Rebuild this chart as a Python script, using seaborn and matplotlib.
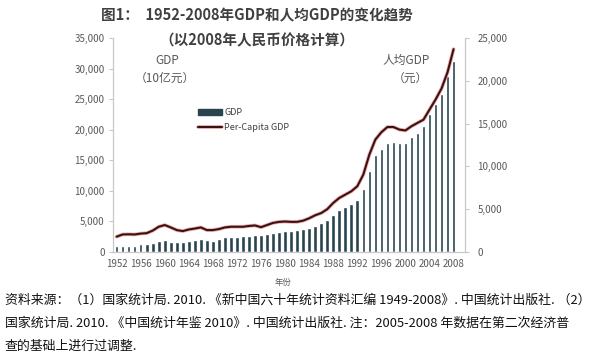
import matplotlib
matplotlib.use("Agg")
import matplotlib.pyplot as plt
import matplotlib.patheffects as pe
from matplotlib.lines import Line2D
from matplotlib.patches import Patch
from matplotlib.ticker import FuncFormatter, MultipleLocator
import pandas as pd
import seaborn as sns

years = list(range(1952, 2009))

# GDP, 10亿元 (2008 prices)
gdp = [950, 1050, 1050, 1050, 1250, 1300, 1450, 1800, 1950, 1700,
       1650, 1600, 1800, 1950, 2050, 1950, 1850, 2100, 2400, 2500,
       2500, 2650, 2650, 2800, 2700, 2900, 3150, 3300, 3450, 3500,
       3550, 3700, 3900, 4300, 4750, 5300, 6000, 6800, 7300, 7850,
       8550, 10300, 13300, 15800, 16900, 17800, 18050, 17800, 17900, 18800,
       19400, 20600, 22600, 24200, 25900, 28800, 31300]

# per-capita GDP, 元
gdp_pc = [1790, 2050, 2070, 2050, 2150, 2200, 2500, 2950, 3150, 2870,
          2560, 2440, 2630, 2740, 2870, 2560, 2560, 2680, 2870, 2950,
          2950, 2950, 3040, 3100, 2900, 3150, 3400, 3520, 3560, 3520,
          3520, 3660, 3940, 4290, 4550, 5000, 5730, 6310, 6700, 7090,
          7680, 9040, 11370, 13130, 13990, 14600, 14600, 14300, 14200, 14690,
          15080, 15460, 16630, 17800, 19100, 21000, 23700]

year_labels = list(range(1952, 2009, 4))

title = "图1：  1952-2008年GDP和人均GDP的变化趋势"
subtitle = "（以2008年人民币价格计算）"
notes = [
    "资料来源：（1）国家统计局. 2010. 《新中国六十年统计资料汇编 1949-2008》. 中国统计出版社. （2）",
    "国家统计局. 2010. 《中国统计年鉴 2010》. 中国统计出版社. 注：2005-2008 年数据在第二次经济普",
    "查的基础上进行过调整.",
]

bar_color = "#28444f"
line_color = "#3b1212"
glow_color = "#eeb0b0"
grey = "#595959"

df = pd.DataFrame({"year": years, "gdp": gdp, "gdp_pc": gdp_pc})

sns.set_style("white")
plt.rcParams["font.family"] = ["Noto Sans CJK SC", "DejaVu Sans"]

fig = plt.figure(figsize=(5.89, 3.60), dpi=100)
ax = fig.add_axes([113 / 589, 1 - 252 / 360, 352 / 589, 214 / 360])
ax2 = ax.twinx()

sns.barplot(data=df, x="year", y="gdp", native_scale=True, width=0.6,
            color=bar_color, saturation=1, ax=ax)
glow = [pe.Stroke(linewidth=2.7, foreground=glow_color), pe.Normal()]
sns.lineplot(data=df, x="year", y="gdp_pc", color=line_color, linewidth=1.5,
             ax=ax2, path_effects=glow)

ax.set_xlim(1951.4, 2009.9)
ax.set_ylim(0, 35000)
ax2.set_ylim(0, 25000)

fmt = FuncFormatter(lambda v, p: f"{int(v):,}")
for a in (ax, ax2):
    a.yaxis.set_major_locator(MultipleLocator(5000))
    a.yaxis.set_major_formatter(fmt)
    a.set_xlabel("")
    a.set_ylabel("")
    for s in a.spines.values():
        s.set_color("#c8c8c8")
    a.spines["top"].set_visible(False)
    a.tick_params(axis="y", labelsize=7, colors=grey, length=3, color="#c8c8c8")

ax.set_xticks(year_labels)
ax.set_xticklabels([str(y) for y in year_labels])
ax.xaxis.set_minor_locator(MultipleLocator(1))
ax.tick_params(axis="x", which="both", labelsize=7, colors=grey, length=3,
               color="#c8c8c8", pad=2)
ax.tick_params(axis="y", pad=3)
ax2.tick_params(axis="y", pad=6)

# axis captions inside the plot
ax.text(0.153, 0.897, "GDP", transform=ax.transAxes, ha="center", va="center",
        fontsize=8.5, color=grey)
ax.text(0.148, 0.813, "（10亿元）", transform=ax.transAxes, ha="center", va="center",
        fontsize=8.5, color=grey)
ax.text(0.832, 0.897, "人均GDP", transform=ax.transAxes, ha="center", va="center",
        fontsize=8.5, color=grey)
ax.text(0.844, 0.813, "（元）", transform=ax.transAxes, ha="center", va="center",
        fontsize=8.5, color=grey)

handles = [
    Patch(facecolor=bar_color, edgecolor=bar_color, label="GDP"),
    Line2D([0], [0], color=line_color, linewidth=1.5, label="Per-Capita GDP",
           path_effects=glow),
]
ax.legend(handles=handles, loc="upper left", bbox_to_anchor=(190 / 589, 1 - 100 / 360),
          bbox_transform=fig.transFigure, frameon=False, fontsize=6.5,
          handlelength=2.6, handleheight=0.6, labelspacing=0.7, handletextpad=0.3,
          labelcolor="#404040")

fig.text(257 / 589, 1 - 15 / 360, title, ha="center", va="center", fontsize=10.5,
         fontweight="bold", color="#404040")
fig.text(257 / 589, 1 - 40 / 360, subtitle, ha="center", va="center", fontsize=10.5,
         fontweight="bold", color="#404040")
fig.text(283 / 589, 1 - 283 / 360, "年份", ha="center", va="center",
         fontsize=6, color=grey)

for i, line in enumerate(notes):
    fig.text(5 / 589, 1 - (300 + 23 * i) / 360, line, ha="left", va="center",
             fontsize=9.3, color="#111111")

fig.savefig("out.png", dpi=100)
